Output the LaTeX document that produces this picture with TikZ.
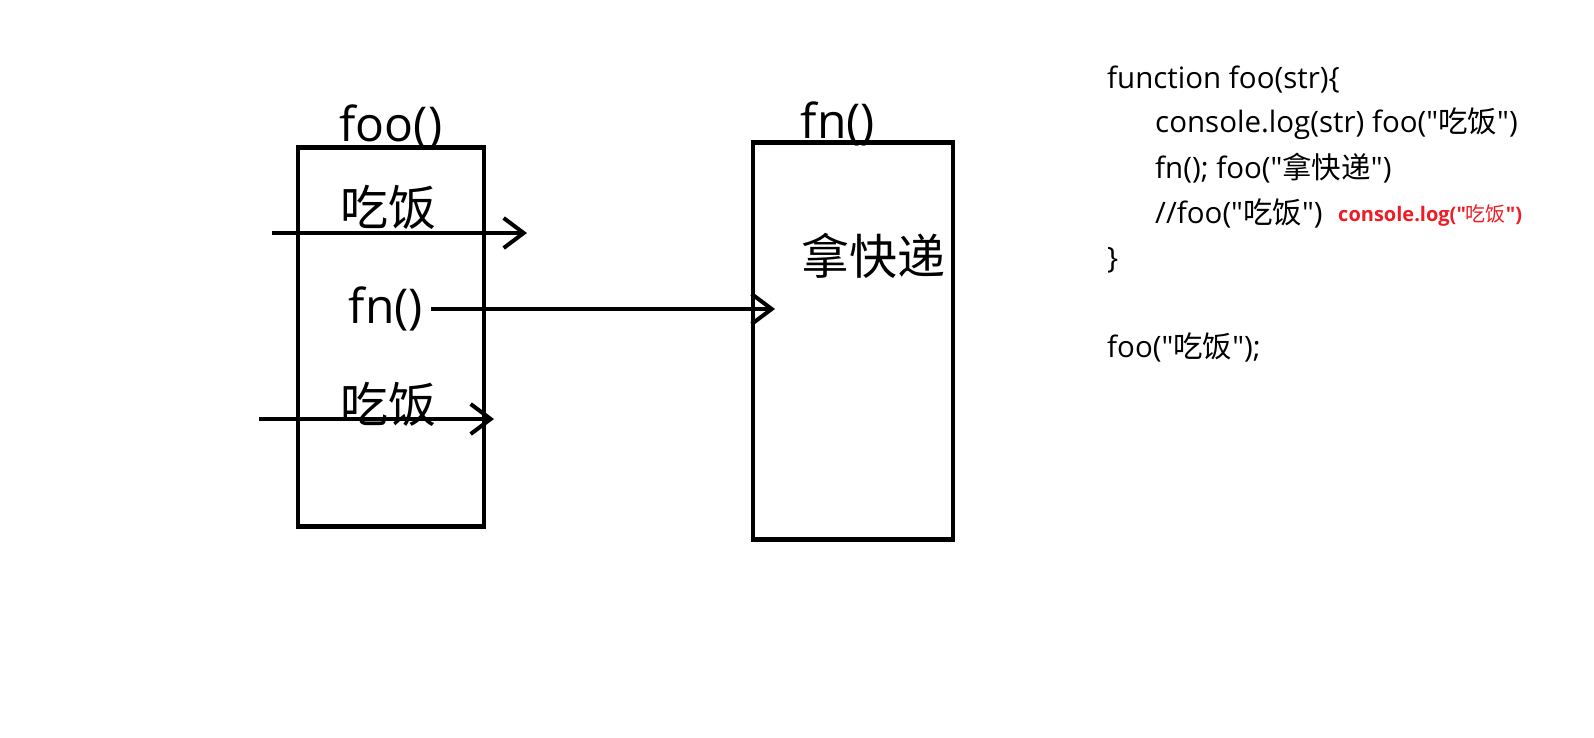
\documentclass[tikz,border=0pt]{standalone}
\usepackage{fontspec}
\setmainfont{Open Sans}[Ligatures=TeXOff]
\newfontfamily\cjk{Noto Sans CJK SC}[Ligatures=TeXOff]
\usetikzlibrary{arrows.meta, positioning}
\definecolor{codered}{HTML}{EE1C25}
\begin{document}
\begin{tikzpicture}[
  x=1pt, y=-1pt,
  frame/.style={draw, line width=4.5pt, inner sep=0pt},
  big/.style={font=\fontsize{48}{52}\selectfont, inner sep=0pt},
  code/.style={font=\fontsize{29.5}{34}\selectfont, anchor=base west, inner sep=0pt},
  note/.style={font=\fontsize{20}{23}\selectfont\bfseries, text=codered, anchor=base west, inner sep=0pt},
  arrow/.style={-{Straight Barb[length=20pt, width=30pt, line width=4pt]}, line width=4pt}
]
\useasboundingbox (0,0) rectangle (1594,737);

% Stack frames
\node[frame, minimum width=186pt, minimum height=379pt] (foobox) at (391,337) {};
\node[frame, minimum width=200pt, minimum height=397pt] (fnbox) at (853,341) {};

\node[big, anchor=base] (foolbl) at (391,141) {foo()};
\node[big, anchor=base] (fnlbl) at (838,138) {fn()};

% Calls inside foo
\node[big] (eat1) at (388,207) {\cjk 吃饭};
\node[big, inner sep=8pt] (fncall) at (386,309) {fn()};
\node[big] (eat2) at (388,404) {\cjk 吃饭};

% Inside fn
\node[big] (parcel) at (873,256) {\cjk 拿快递};

% Call arrows
\coordinate (in1) at (272,233);
\coordinate (out1) at (527,233);
\coordinate (in2) at (259,419);
\coordinate (out2) at (494,419);
\coordinate (enter) at (775,309);

\draw[arrow] (in1) -- (out1);
\draw[arrow] (fncall.east) -- (enter);
\draw[arrow] (in2) -- (out2);

% Code
\node[code] (c1) at (1107,88) {function foo(str)\{};
\node[code] (c2) at (1155,132) {console.log(str) foo("{\cjk 吃饭}")};
\node[code] (c3) at (1155,178) {fn(); foo("{\cjk 拿快递}")};
\node[code] (c4) at (1155,223) {//foo("{\cjk 吃饭}")};
\node[note] (c4note) at (1338,221) {console.log("{\mdseries\cjk 吃饭}")};
\node[code] (c5) at (1107,268) {\}};
\node[code] (c6) at (1107,357) {foo("{\cjk 吃饭}");};

\end{tikzpicture}
\end{document}
